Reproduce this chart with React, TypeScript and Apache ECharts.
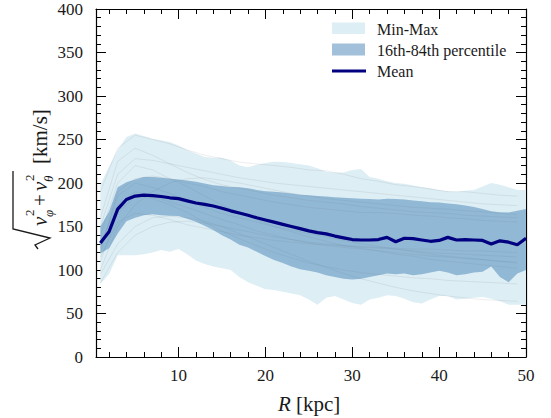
import React, { useEffect, useRef } from 'react';
import * as echarts from 'echarts';

// Radius grid (kpc)
const R = [1, 2, 3, 4, 5, 6, 7, 8, 9, 10, 11, 12, 13, 14, 15, 16, 17, 18, 19, 20, 21, 22, 23, 24, 25, 26, 27, 28, 29, 30, 31, 32, 33, 34, 35, 36, 37, 38, 39, 40, 41, 42, 43, 44, 45, 46, 47, 48, 49, 50];

const MEAN = [131, 144, 170, 181, 185, 186, 185.5, 184.5, 183, 182, 179.5, 177, 175.5, 173.5, 171, 168, 165.5, 163, 160, 157.5, 155, 152.5, 150, 147.5, 145, 143, 141.5, 139, 137, 135, 134.5, 134.5, 135, 137.5, 132.5, 136.5, 136, 134.5, 133, 134, 137.5, 134.5, 135, 134.5, 134, 130, 133.5, 132, 129, 136.5];

const P84 = [150, 167, 195, 201, 204, 207, 207, 206, 205, 204, 203, 201.5, 199.5, 197.5, 196.5, 195.5, 195, 194, 192, 190.5, 190, 189, 188, 186.5, 186, 185, 184.5, 183.5, 183, 182.5, 182, 181.5, 181, 182, 181.5, 181, 180, 179, 178, 177.5, 176.5, 175.5, 174, 172.5, 170, 167.5, 166.5, 166, 168, 170];

const P16 = [119, 125, 142, 156, 160, 163, 164, 163, 162.5, 162, 159, 155.5, 151, 146, 140, 135, 129, 126, 121, 116, 111.5, 108, 104, 101, 99, 97, 94, 92, 90, 89, 90, 92, 94, 96, 95, 96, 94, 95, 97, 99, 97, 94, 95, 97, 98, 104, 92, 86, 96, 100];

const MAXV = [198, 219, 238, 253, 257, 254, 251, 249, 247, 243, 238, 234, 230, 229, 229, 226, 220, 218, 221, 223, 224.5, 224, 223, 221.5, 220, 217, 213, 212, 212, 215, 216, 207, 205, 202, 200, 199, 197, 195.5, 194, 192, 190.5, 190, 191, 192, 196, 200, 198, 195, 192, 192];

const MINV = [84, 95, 117, 117, 117, 118, 120, 123, 121, 124, 118, 111, 107, 104, 102, 100, 92, 86, 82, 78, 77, 75, 73, 71, 66, 60, 68, 70, 66, 62, 60, 66, 68, 71, 70, 67, 63, 61.5, 66, 70, 70, 66, 67, 68, 69, 67, 64, 60, 60, 60];

// Individual profiles (coarse grid)
const R_COARSE = [1, 3, 5, 7, 9, 11, 13, 15, 17, 19, 21, 23, 25, 27, 29, 31, 33, 35, 37, 39, 41, 43, 45, 47, 49];
const G1 = [190, 240, 255, 250, 245, 238, 232, 228, 224, 222, 220, 218, 215, 214, 210, 205, 202, 198, 196, 193, 190, 190, 188, 186, 185];
const G2 = [150, 210, 228, 226, 222, 218, 214, 210, 206, 203, 200, 198, 196, 194, 192, 190, 188, 186, 184, 182, 180, 178, 176, 175, 174];
const G3 = [120, 190, 205, 208, 205, 200, 196, 190, 186, 182, 178, 175, 172, 170, 168, 166, 166, 165, 163, 162, 160, 159, 157, 156, 155];
const G4 = [100, 150, 175, 190, 200, 205, 206, 203, 200, 196, 192, 188, 185, 182, 180, 178, 176, 174, 172, 171, 170, 168, 167, 165, 164];
const G5 = [130, 175, 190, 185, 178, 172, 165, 158, 152, 145, 140, 135, 131, 128, 126, 124, 122, 120, 118, 116, 115, 113, 112, 110, 109];
const G6 = [85, 120, 140, 150, 155, 156, 154, 150, 146, 142, 138, 135, 132, 130, 128, 126, 125, 124, 122, 120, 119, 118, 117, 116, 115];
const G7 = [110, 165, 185, 182, 175, 166, 155, 145, 136, 128, 120, 114, 108, 104, 100, 97, 95, 93, 91, 90, 88, 87, 86, 85, 84];
const G8 = [140, 200, 220, 215, 205, 196, 185, 175, 166, 158, 150, 144, 138, 133, 128, 125, 122, 118, 116, 112, 110, 108, 106, 104, 102];
const G9 = [95, 130, 150, 160, 162, 160, 156, 150, 142, 134, 126, 118, 110, 103, 96, 90, 85, 80, 76, 73, 70, 68, 66, 65, 64];
const G10 = [160, 225, 240, 232, 222, 212, 204, 198, 194, 190, 186, 183, 180, 178, 176, 173, 171, 169, 167, 166, 165, 163, 162, 161, 160];
const G11 = [115, 155, 165, 163, 158, 152, 148, 144, 140, 137, 134, 132, 130, 129, 128, 127, 126, 125, 124, 124, 123, 122, 122, 121, 120];
const G12 = [125, 185, 200, 195, 188, 180, 172, 165, 160, 155, 150, 146, 142, 138, 134, 130, 127, 124, 121, 118, 116, 114, 112, 110, 108];
const GRAY_LINES = [G1, G2, G3, G4, G5, G6, G7, G8, G9, G10, G11, G12];

// Ticks
const X_MAJOR = [10, 20, 30, 40, 50];
const X_MINOR = [2, 4, 6, 8, 12, 14, 16, 18, 22, 24, 26, 28, 32, 34, 36, 38, 42, 44, 46, 48];

const LEGEND_LABELS = ['Min-Max', '16th-84th percentile', 'Mean'];

const SERIF = 'Liberation Serif';
const TXT = '#1a1a1a';
const LIGHT = '#DDEEF5';
const DARK = 'rgba(70,130,180,0.5)';
const DARK_LEGEND = '#A2C0D9';
const NAVY = '#000080';

function band(lower: number[], upper: number[], color: string, z: number) {
  return {
    type: 'custom',
    xAxisIndex: 0,
    yAxisIndex: 0,
    z,
    silent: true,
    clip: true,
    data: [[R[0], lower[0]]],
    encode: { x: 0, y: 1 },
    renderItem: (_params: any, api: any) => {
      const pts: number[][] = [];
      for (let i = 0; i < R.length; i++) pts.push(api.coord([R[i], upper[i]]));
      for (let i = R.length - 1; i >= 0; i--) pts.push(api.coord([R[i], lower[i]]));
      return { type: 'polygon', shape: { points: pts }, style: { fill: color, stroke: null } };
    },
  };
}

function txt(x: number, y: number, text: string, size: number, italic = false) {
  const style: any = { text, fill: TXT, fontFamily: SERIF, fontSize: size, verticalAlign: 'middle' };
  if (italic) style.fontStyle = 'italic';
  return { type: 'text', x, y, style };
}

export default function App() {
  const ref = useRef<HTMLDivElement>(null);
  useEffect(() => {
    const chart = echarts.init(ref.current!, null, { renderer: 'svg' });
    const xBase = { type: 'value', min: 0.5, max: 50, splitLine: { show: false } };
    const option: any = {
      animation: false,
      backgroundColor: '#fff',
      textStyle: { fontFamily: SERIF },
      grid: { left: 96, right: 25, top: 9, bottom: 61, containLabel: false },
      xAxis: [
        {
          ...xBase,
          position: 'bottom',
          axisLine: { show: true, lineStyle: { color: '#000', width: 1.2 } },
          axisTick: { show: true, inside: true, length: 10, customValues: X_MAJOR, lineStyle: { color: '#000', width: 1 } },
          axisLabel: { show: true, customValues: X_MAJOR, color: TXT, fontFamily: SERIF, fontSize: 17, margin: 10 },
        },
        {
          ...xBase,
          position: 'bottom',
          axisLine: { show: false },
          axisTick: { show: true, inside: true, length: 5, customValues: X_MINOR, lineStyle: { color: '#000', width: 1 } },
          axisLabel: { show: false },
        },
        {
          ...xBase,
          position: 'top',
          axisLine: { show: true, lineStyle: { color: '#000', width: 1.2 } },
          axisTick: { show: true, inside: true, length: 10, customValues: X_MAJOR, lineStyle: { color: '#000', width: 1 } },
          axisLabel: { show: false },
        },
        {
          ...xBase,
          position: 'top',
          axisLine: { show: false },
          axisTick: { show: true, inside: true, length: 5, customValues: X_MINOR, lineStyle: { color: '#000', width: 1 } },
          axisLabel: { show: false },
        },
      ],
      yAxis: [
        {
          type: 'value', min: 0, max: 400, interval: 50, position: 'left',
          splitLine: { show: false },
          axisLine: { show: true, lineStyle: { color: '#000', width: 1.2 } },
          axisTick: { show: true, inside: true, length: 10, lineStyle: { color: '#000', width: 1 } },
          minorTick: { show: true, splitNumber: 5, length: 5, lineStyle: { color: '#000', width: 1 } },
          minorSplitLine: { show: false },
          axisLabel: { color: TXT, fontFamily: SERIF, fontSize: 17, margin: 13 },
        },
        {
          type: 'value', min: 0, max: 400, interval: 50, position: 'right',
          splitLine: { show: false },
          axisLine: { show: true, lineStyle: { color: '#000', width: 1.2 } },
          axisTick: { show: true, inside: true, length: 10, lineStyle: { color: '#000', width: 1 } },
          minorTick: { show: true, splitNumber: 5, length: 5, lineStyle: { color: '#000', width: 1 } },
          minorSplitLine: { show: false },
          axisLabel: { show: false },
        },
      ],
      series: [
        band(MINV, MAXV, LIGHT, 1),
        ...GRAY_LINES.map((g) => ({
          type: 'line',
          xAxisIndex: 0,
          yAxisIndex: 0,
          z: 2,
          silent: true,
          symbol: 'none',
          data: R_COARSE.map((r, i) => [r, g[i]]),
          lineStyle: { color: 'rgba(120,120,120,0.13)', width: 1 },
        })),
        band(P16, P84, DARK, 3),
        {
          type: 'line',
          xAxisIndex: 0,
          yAxisIndex: 0,
          z: 4,
          symbol: 'none',
          data: R.map((r, i) => [r, MEAN[i]]),
          lineStyle: { color: NAVY, width: 3.2 },
        },
      ],
      graphic: [
        { type: 'rect', x: 332, y: 22.5, shape: { width: 33, height: 11.5 }, style: { fill: LIGHT }, z: 10 },
        { type: 'rect', x: 332, y: 43.5, shape: { width: 33, height: 12 }, style: { fill: DARK_LEGEND }, z: 10 },
        { type: 'line', shape: { x1: 332, y1: 71, x2: 366, y2: 71 }, style: { stroke: NAVY, lineWidth: 3.2 }, z: 10 },
        { ...txt(377, 29, LEGEND_LABELS[0], 16), z: 10 },
        { ...txt(377, 50, LEGEND_LABELS[1], 16), z: 10 },
        { ...txt(377, 71, LEGEND_LABELS[2], 16), z: 10 },
        // x axis title
        txt(278, 404, 'R', 21, true),
        txt(296, 404, '[kpc]', 21),
        // y axis title (rotated)
        {
          type: 'group', x: 10, y: 250, rotation: Math.PI / 2,
          children: [
            { type: 'polyline', shape: { points: [[1, 28], [5, 25], [12, 40], [21, 3], [79, 3]] }, style: { stroke: TXT, lineWidth: 1.3, fill: null } },
            txt(24, 30, 'v', 21, true),
            txt(34, 19, '2', 13),
            txt(33, 38, 'φ', 13, true),
            txt(44, 30, '+', 21),
            txt(59, 30, 'v', 21, true),
            txt(69, 19, '2', 13),
            txt(68, 38, 'θ', 13, true),
            txt(86, 30, '[km/s]', 21),
          ],
        },
      ],
    };
    chart.setOption(option);
    return () => chart.dispose();
  }, []);
  return <div ref={ref} style={{ position: 'fixed', left: 0, top: 0, width: 551, height: 418 }} />;
}
